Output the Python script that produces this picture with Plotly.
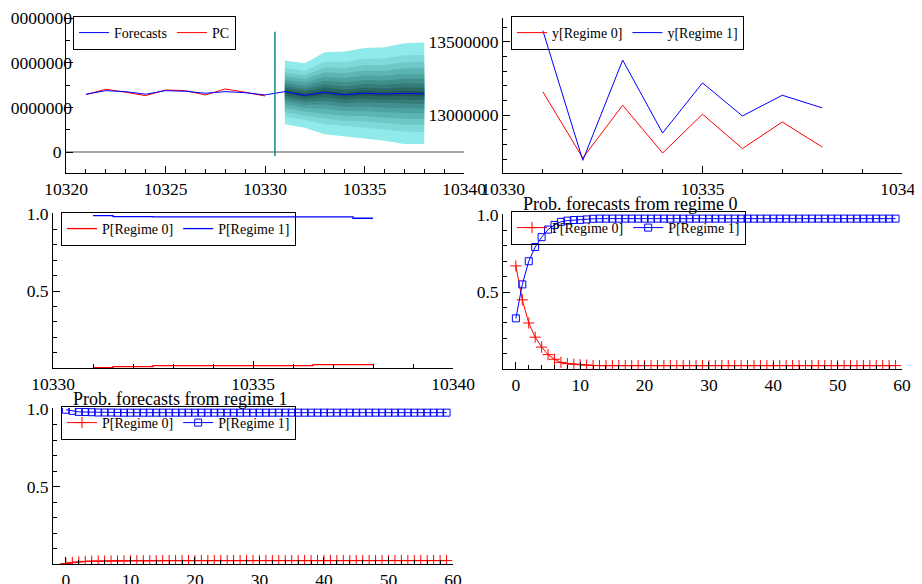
import plotly.graph_objects as go

SERIF = "Liberation Serif"

# ---------------- Panel A: PC, fitted values / forecasts and fan ----------------
t_fit = [10321, 10322, 10323, 10324, 10325, 10326, 10327, 10328, 10329, 10330]
pc = [12.88e6, 14.09e6, 13.42e6, 12.65e6, 13.93e6, 13.78e6, 12.81e6, 14.16e6, 13.42e6, 12.58e6]
t_all = [10321, 10322, 10323, 10324, 10325, 10326, 10327, 10328, 10329, 10330,
         10331, 10332, 10333, 10334, 10335, 10336, 10337, 10338]
forecasts = [12.97e6, 13.78e6, 13.55e6, 12.97e6, 13.78e6, 13.64e6, 13.19e6, 13.55e6, 13.33e6, 12.81e6,
             13.56e6, 12.72e6, 13.40e6, 12.84e6, 13.21e6, 13.00e6, 13.18e6, 13.05e6]
t_fc = [10331, 10332, 10333, 10334, 10335, 10336, 10337, 10338]
fan_upper = [20.52e6, 19.93e6, 22.40e6, 22.54e6, 23.37e6, 23.53e6, 24.43e6, 24.56e6]
fan_lower = [6.22e6, 5.46e6, 3.98e6, 3.44e6, 2.99e6, 2.54e6, 1.80e6, 1.80e6]
fan_levels = [1.0, 0.76, 0.62, 0.50, 0.39, 0.29, 0.20, 0.12, 0.05]
fan_colors = ["#90EAEA", "#7ED9D8", "#6DC8C6", "#5DB5B3", "#4EA2A0", "#418F8C",
              "#357B78", "#2A6864", "#215753"]
forecast_origin = 10330.5
origin_span = [-0.9e6, 27.0e6]
a_ticks = [0, 10000000, 20000000, 30000000]

# ---------------- Panel B: regime forecasts ----------------
t_reg = [10331, 10332, 10333, 10334, 10335, 10336, 10337, 10338]
y_reg0 = [13158800, 12709000, 13068000, 12743000, 13007000, 12773000, 12954000, 12784000]
y_reg1 = [13575000, 12693000, 13375000, 12879000, 13220000, 12995000, 13136000, 13050000]

# ---------------- Panel C: regime probabilities over forecast period ----------------
p_reg0 = [0.005, 0.011, 0.017, 0.017, 0.017, 0.017, 0.024, 0.024]
p_reg1 = [0.989, 0.983, 0.981, 0.981, 0.981, 0.981, 0.981, 0.972]

# ---------------- Panels D / E: probability forecasts ----------------
h = list(range(60))
d_reg0 = [0.670, 0.450, 0.300, 0.208, 0.144, 0.095, 0.065, 0.045, 0.037, 0.033,
          0.030, 0.027, 0.025, 0.024, 0.024, 0.024, 0.024, 0.024, 0.024, 0.024,
          0.024, 0.024, 0.024, 0.024, 0.024, 0.024, 0.024, 0.024, 0.024, 0.024,
          0.024, 0.024, 0.024, 0.024, 0.024, 0.024, 0.024, 0.024, 0.024, 0.024,
          0.024, 0.024, 0.024, 0.024, 0.024, 0.024, 0.024, 0.024, 0.024, 0.024,
          0.024, 0.024, 0.024, 0.024, 0.024, 0.024, 0.024, 0.024, 0.024, 0.024]
d_reg1 = [0.330, 0.550, 0.700, 0.792, 0.856, 0.905, 0.935, 0.955, 0.963, 0.967,
          0.968, 0.971, 0.975, 0.976, 0.976, 0.976, 0.976, 0.976, 0.976, 0.976,
          0.976, 0.976, 0.976, 0.976, 0.976, 0.976, 0.976, 0.976, 0.976, 0.976,
          0.976, 0.976, 0.976, 0.976, 0.976, 0.976, 0.976, 0.976, 0.976, 0.976,
          0.976, 0.976, 0.976, 0.976, 0.976, 0.976, 0.976, 0.976, 0.976, 0.976,
          0.976, 0.976, 0.976, 0.976, 0.976, 0.976, 0.976, 0.976, 0.976, 0.976]
e_reg0 = [0.005, 0.012, 0.015, 0.019, 0.020, 0.021, 0.021, 0.022, 0.022, 0.022,
          0.023, 0.023, 0.023, 0.023, 0.023, 0.024, 0.024, 0.024, 0.024, 0.024,
          0.024, 0.024, 0.024, 0.024, 0.024, 0.024, 0.024, 0.024, 0.024, 0.024,
          0.024, 0.024, 0.024, 0.024, 0.024, 0.024, 0.024, 0.024, 0.024, 0.024,
          0.024, 0.024, 0.024, 0.024, 0.024, 0.024, 0.024, 0.024, 0.024, 0.024,
          0.024, 0.024, 0.024, 0.024, 0.024, 0.024, 0.024, 0.024, 0.024, 0.024]
e_reg1 = [0.995, 0.988, 0.981, 0.980, 0.979, 0.977, 0.977, 0.977, 0.976, 0.976,
          0.976, 0.976, 0.976, 0.976, 0.976, 0.976, 0.976, 0.976, 0.976, 0.976,
          0.976, 0.976, 0.976, 0.976, 0.976, 0.976, 0.976, 0.976, 0.976, 0.976,
          0.976, 0.976, 0.976, 0.976, 0.976, 0.976, 0.976, 0.976, 0.976, 0.976,
          0.976, 0.976, 0.976, 0.976, 0.976, 0.976, 0.976, 0.976, 0.976, 0.976,
          0.976, 0.976, 0.976, 0.976, 0.976, 0.976, 0.976, 0.976, 0.976, 0.976]

title_d = "Prob. forecasts from regime 0"
title_e = "Prob. forecasts from regime 1"

RED = "#FF0000"
BLUE = "#0000FF"

fig = go.Figure()

# --- Panel A ---
fc_part = forecasts[len(t_fit):]
for lev, col in zip(fan_levels, fan_colors):
    up = [c + lev * (u - c) for c, u in zip(fc_part, fan_upper)]
    lo = [c - lev * (c - l) for c, l in zip(fc_part, fan_lower)]
    fig.add_trace(go.Scatter(x=t_fc + t_fc[::-1], y=up + lo[::-1], fill="toself",
                             fillcolor=col, line=dict(width=0), mode="lines",
                             showlegend=False, hoverinfo="skip", xaxis="x", yaxis="y"))
fig.add_trace(go.Scatter(x=t_fit, y=pc, mode="lines", name="PC", line=dict(color=RED, width=1),
                         legend="legend", legendrank=2, xaxis="x", yaxis="y"))
fig.add_trace(go.Scatter(x=t_all, y=forecasts, mode="lines", name="Forecasts",
                         line=dict(color=BLUE, width=1), legend="legend", legendrank=1,
                         xaxis="x", yaxis="y"))
# forecast-origin marker, drawn on the overlaid twin of panel A's y axis (same range)
fig.add_trace(go.Scatter(x=[forecast_origin, forecast_origin], y=origin_span, mode="lines",
                         line=dict(color="#0E8A8A", width=1.5), showlegend=False,
                         xaxis="x", yaxis="y6"))

# --- Panel B ---
fig.add_trace(go.Scatter(x=t_reg, y=y_reg0, mode="lines", name="y[Regime 0]",
                         line=dict(color=RED, width=1), legend="legend2", xaxis="x2", yaxis="y2"))
fig.add_trace(go.Scatter(x=t_reg, y=y_reg1, mode="lines", name="y[Regime 1]",
                         line=dict(color=BLUE, width=1), legend="legend2", xaxis="x2", yaxis="y2"))

# --- Panel C ---
fig.add_trace(go.Scatter(x=t_reg, y=p_reg0, mode="lines", name="P[Regime 0]", line_shape="hvh",
                         line=dict(color=RED, width=1.3), legend="legend3", xaxis="x3", yaxis="y3"))
fig.add_trace(go.Scatter(x=t_reg, y=p_reg1, mode="lines", name="P[Regime 1]", line_shape="hvh",
                         line=dict(color=BLUE, width=1.3), legend="legend3", xaxis="x3", yaxis="y3"))

# --- Panels D and E ---
cross = dict(symbol="cross-thin", size=8, color=RED, line=dict(color=RED, width=1))
square = dict(symbol="square-open", size=7, color=BLUE, line=dict(color=BLUE, width=1))
for ys0, ys1, leg, xa, ya in [(d_reg0, d_reg1, "legend4", "x4", "y4"),
                               (e_reg0, e_reg1, "legend5", "x5", "y5")]:
    fig.add_trace(go.Scatter(x=h, y=ys0, mode="lines+markers", name="P[Regime 0]",
                             line=dict(color=RED, width=1), marker=cross, legend=leg,
                             xaxis=xa, yaxis=ya))
    fig.add_trace(go.Scatter(x=h, y=ys1, mode="lines+markers", name="P[Regime 1]",
                             line=dict(color=BLUE, width=1), marker=square, legend=leg,
                             xaxis=xa, yaxis=ya))

# The page body has an 8px margin, so the figure is 8px smaller than the window
# and every layout position below is given in window pixels minus that offset.
OFF = 8
W, H = 922 - OFF, 584 - OFF


def px_x(a, b):
    return [(a - OFF) / W, (b - OFF) / W]


def px_y(top, bottom):
    return [1 - (bottom - OFF) / H, 1 - (top - OFF) / H]


TICKFONT = dict(family=SERIF, size=17.5, color="black")


def axis(domain, rng, anchor, tick0, dtick, mdtick, fmt, **kw):
    d = dict(domain=domain, range=rng, anchor=anchor, showline=True, linecolor="black",
             linewidth=1, ticks="inside", ticklen=7, tickwidth=1, tickcolor="black",
             showgrid=False, zeroline=False, tickfont=TICKFONT, tickmode="linear",
             tick0=tick0, dtick=dtick, tickformat=fmt, automargin=False,
             ticklabeloverflow="allow",
             minor=dict(ticks="inside", ticklen=4, tickcolor="black", dtick=mdtick,
                        tick0=tick0, showgrid=False))
    d.update(kw)
    return d


def legend(xp, yp):
    return dict(x=(xp - OFF) / W, y=1 - (yp - OFF) / H, xanchor="left", yanchor="top",
                orientation="h", bgcolor="rgba(255,255,255,0)", bordercolor="black",
                borderwidth=1, font=dict(family=SERIF, size=14, color="black"),
                tracegroupgap=0)


# In the original the long y labels of panel A are clipped at the panel edge, so their
# leading digit is not seen; it is kept as text but drawn in the background colour.
def clipped_label(v):
    s = str(v)
    return "<span style='color:white'>" + s[0] + "</span>" + s[1:]


A_X = px_x(66, 464)
A_Y = px_y(17, 173)
A_RANGE = [-4.7e6, 30.3e6]

fig.update_layout(
    width=W, height=H, margin=dict(l=0, r=0, t=0, b=0, pad=0, autoexpand=False), autosize=False,
    paper_bgcolor="white", plot_bgcolor="white", hovermode=False,
    font=dict(family=SERIF, color="black"),
    # Panel A: the "0" label sits left of the axis, the long labels run into the axis
    xaxis=axis(A_X, [10320, 10340], "y", 10320, 5, 1, "d"),
    yaxis=axis(A_Y, A_RANGE, "x", 0, 10e6, 5e6, "d",
               tickmode="array", tickvals=a_ticks, ticktext=["0", "", "", ""],
               zeroline=True, zerolinecolor="#A8A8A8", zerolinewidth=1.5),
    yaxis6=dict(overlaying="y", anchor="x", side="left", range=A_RANGE, showline=False,
                ticks="", showgrid=False, zeroline=False, tickmode="array",
                tickvals=a_ticks[1:], ticktext=[clipped_label(v) for v in a_ticks[1:]],
                tickfont=TICKFONT, ticklabelstandoff=-7, ticklabeloverflow="allow",
                automargin=False),
    # Panel B
    xaxis2=axis(px_x(503, 902), [10330, 10340], "y2", 10330, 5, 1, "d"),
    yaxis2=axis(px_y(18, 173), [12607000, 13661500], "x2", 13000000, 500000, 100000, "d"),
    # Panel C
    xaxis3=axis(px_x(53, 453), [10330, 10340], "y3", 10330, 5, 1, "d"),
    yaxis3=axis(px_y(213, 368), [0.002, 1.006], "x3", 0, 0.5, 0.1, ".1f"),
    # Panel D
    xaxis4=axis(px_x(503, 902), [-2, 60], "y4", 0, 10, 2, "d"),
    yaxis4=axis(px_y(214, 369), [0.002, 1.006], "x4", 0, 0.5, 0.1, ".1f"),
    # Panel E
    xaxis5=axis(px_x(53, 453), [-2, 60], "y5", 0, 10, 2, "d"),
    yaxis5=axis(px_y(408, 564), [0.002, 1.006], "x5", 0, 0.5, 0.1, ".1f"),
    legend=legend(73, 16),
    legend2=legend(511, 16),
    legend3=legend(61, 212),
    legend4=legend(511, 211),
    legend5=legend(61, 406),
    annotations=[
        dict(text=title_d, x=(521 - OFF) / W, y=1 - (204 - OFF) / H, xref="paper", yref="paper",
             xanchor="left", yanchor="middle", showarrow=False,
             font=dict(family=SERIF, size=18, color="black")),
        dict(text=title_e, x=(71 - OFF) / W, y=1 - (399 - OFF) / H, xref="paper", yref="paper",
             xanchor="left", yanchor="middle", showarrow=False,
             font=dict(family=SERIF, size=18, color="black")),
    ],
)

fig.write_html("out.html")
